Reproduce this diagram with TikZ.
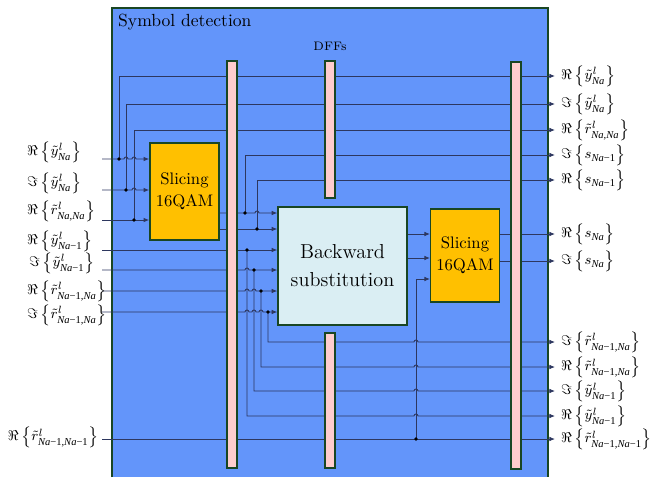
\documentclass[tikz,border=0pt]{standalone}
\usepackage{fontspec}
\newfontfamily\tms{Liberation Serif}
\usetikzlibrary{arrows.meta,positioning}
\definecolor{detblue}{RGB}{99,149,250}
\definecolor{edgegreen}{RGB}{25,70,35}
\definecolor{dffpink}{RGB}{255,205,205}
\definecolor{slicegold}{RGB}{255,192,0}
\definecolor{bsfill}{RGB}{218,238,243}
\definecolor{wire}{RGB}{45,55,95}
\tikzset{
  dff/.style={draw=edgegreen,fill=dffpink,line width=0.8pt,minimum width=0.2cm,inner sep=0pt},
  slicer/.style={draw=edgegreen,fill=slicegold,line width=0.8pt,minimum width=1.38cm,align=center,font=\fontsize{9.5}{12.5}\selectfont},
  sig/.style={draw=wire,line width=0.5pt},
  feed/.style={sig,-{Latex[length=3.2pt,width=2.6pt]}},
  lbl/.style={font=\fontsize{8.5}{10}\selectfont,inner sep=1pt}
}
\newcommand{\ixs}[1]{\mbox{\fontsize{6}{7}\selectfont\tms\itshape #1}}
\newcommand{\minone}{{\upshape −1}}
\newcommand{\jointdot}[1]{\fill (#1) circle (1.1pt);}
\begin{document}
\begin{tikzpicture}[x=0.02cm,y=-0.02cm]
\useasboundingbox (0,0) rectangle (652,477);
\fill[detblue] (112,8) rectangle (548,477);
\draw[edgegreen,line width=0.9pt] (112,477) |- (548,8) -- (548,477);
\node[anchor=west] (title) at (112,22) {Symbol detection};

\node[slicer,minimum height=1.94cm] (slice1) at (184.5,191.5) {Slicing\\16QAM};
\node[draw=edgegreen,fill=bsfill,line width=0.8pt,minimum width=2.58cm,minimum height=2.36cm,align=center,font=\fontsize{11.5}{16}\selectfont] (bs) at (342.5,266) {Backward\\substitution};
\node[slicer,minimum height=1.86cm] (slice2) at (465,255.5) {Slicing\\16QAM};

\coordinate (i1) at (102,159);
\coordinate (i2) at (102,190);
\coordinate (i3) at (102,220);
\coordinate (i4) at (102,250);
\coordinate (i5) at (102,270);
\coordinate (i6) at (102,291);
\coordinate (i7) at (102,312);
\coordinate (i8) at (102,439);
\coordinate (o1) at (555,76);
\coordinate (o2) at (555,104);
\coordinate (o3) at (555,130);
\coordinate (o4) at (555,155);
\coordinate (o5) at (555,180);
\coordinate (o6) at (555,234);
\coordinate (o7) at (555,261);
\coordinate (o8) at (555,342);
\coordinate (o9) at (555,367);
\coordinate (o10) at (555,391);
\coordinate (o11) at (555,416);
\coordinate (o12) at (555,439);
\coordinate (t1) at (119,159);
\coordinate (t2) at (126,190);
\coordinate (t3) at (134,220);
\coordinate (s1a) at (245,213);
\coordinate (s1b) at (257,229);
\coordinate (t4) at (247,250);
\coordinate (t5) at (254,270);
\coordinate (t6) at (261,291);
\coordinate (t7) at (268,312);
\coordinate (t8) at (416,439);
\coordinate (q1) at (430,234);
\coordinate (q2) at (430,258);
\coordinate (q3) at (430,279);

\draw[feed] (i1) -- (124,159) arc[start angle=180,end angle=0,radius=0.04cm] -- (132,159) arc[start angle=180,end angle=0,radius=0.04cm] -- (i1 -| slice1.west);
\draw[feed] (i2) -- (132,190) arc[start angle=180,end angle=0,radius=0.04cm] -- (i2 -| slice1.west);
\draw[feed] (i3) -- (i3 -| slice1.west);
\draw[feed] (t1) |- (o1);
\draw[feed] (t2) |- (o2);
\draw[feed] (t3) |- (o3);

\draw[feed] (slice1.east |- s1a) -- (255,213) arc[start angle=180,end angle=0,radius=0.04cm] -- (bs.west |- s1a);
\draw[feed] (slice1.east |- s1b) -- (bs.west |- s1b);
\draw[feed] (s1a) |- (o4);
\draw[feed] (s1b) |- (o5);

\draw[feed] (i4) -- (bs.west |- i4);
\draw[feed] (i5) -- (245,270) arc[start angle=180,end angle=0,radius=0.04cm] -- (bs.west |- i5);
\draw[feed] (i6) -- (245,291) arc[start angle=180,end angle=0,radius=0.04cm] -- (252,291) arc[start angle=180,end angle=0,radius=0.04cm] -- (bs.west |- i6);
\draw[feed] (i7) -- (245,312) arc[start angle=180,end angle=0,radius=0.04cm] -- (252,312) arc[start angle=180,end angle=0,radius=0.04cm] -- (259,312) arc[start angle=180,end angle=0,radius=0.04cm] -- (bs.west |- i7);
\draw[feed] (t4) -- (247,416) -- (414,416) arc[start angle=180,end angle=0,radius=0.04cm] -- (o11);
\draw[feed] (t5) -- (254,391) -- (414,391) arc[start angle=180,end angle=0,radius=0.04cm] -- (o10);
\draw[feed] (t6) -- (261,367) -- (414,367) arc[start angle=180,end angle=0,radius=0.04cm] -- (o9);
\draw[feed] (t7) -- (268,342) -- (414,342) arc[start angle=180,end angle=0,radius=0.04cm] -- (o8);

\draw[feed] (i8) -- (o12);
\draw[feed] (t8) |- (q3);
\draw[feed] (bs.east |- q1) -- (q1);
\draw[feed] (bs.east |- q2) -- (q2);
\draw[feed] (slice2.east |- o6) -- (o6);
\draw[feed] (slice2.east |- o7) -- (o7);

\foreach \p in {t1,t2,t3,s1a,s1b,t4,t5,t6,t7,t8} {\jointdot{\p}}

\node[dff,minimum height=8.14cm] (dffa) at (232,264.5) {};
\node[dff,minimum height=2.74cm] (dffb) at (330,129.5) {};
\node[dff,minimum height=2.7cm] (dffc) at (330,400.5) {};
\node[dff,minimum height=8.14cm] (dffd) at (516,265.5) {};
\node[font=\fontsize{7}{8}\selectfont,above=0.06cm of dffb] (dfflbl) {DFFs};

\node[lbl,anchor=west] (l1) at (25,152) {$\Re\,\bigl\{\tilde{y}^{l}_{\ixs{Na}}\bigr\}$};
\node[lbl,anchor=west] (l2) at (25,183) {$\Im\,\bigl\{\tilde{y}^{l}_{\ixs{Na}}\bigr\}$};
\node[lbl,anchor=west] (l3) at (25,211) {$\Re\,\bigl\{\tilde{r}^{l}_{\ixs{Na,Na}}\bigr\}$};
\node[lbl,anchor=west] (l4) at (25,241) {$\Re\,\bigl\{\tilde{y}^{l}_{\ixs{Na\minone}}\bigr\}$};
\node[lbl,anchor=west] (l5) at (27,263) {$\Im\,\bigl\{\tilde{y}^{l}_{\ixs{Na\minone}}\bigr\}$};
\node[lbl,anchor=west] (l6) at (25,291) {$\Re\,\bigl\{\tilde{r}^{l}_{\ixs{Na\minone,Na}}\bigr\}$};
\node[lbl,anchor=west] (l7) at (25,315) {$\Im\,\bigl\{\tilde{r}^{l}_{\ixs{Na\minone,Na}}\bigr\}$};
\node[lbl,anchor=east] (l8) at (101,437) {$\Re\,\bigl\{\tilde{r}^{l}_{\ixs{Na\minone,Na\minone}}\bigr\}$};

\node[lbl,right=0.08cm of o1] (r1) {$\Re\,\bigl\{\tilde{y}^{l}_{\ixs{Na}}\bigr\}$};
\node[lbl,right=0.08cm of o2] (r2) {$\Im\,\bigl\{\tilde{y}^{l}_{\ixs{Na}}\bigr\}$};
\node[lbl,right=0.08cm of o3] (r3) {$\Re\,\bigl\{\tilde{r}^{l}_{\ixs{Na,Na}}\bigr\}$};
\node[lbl,right=0.08cm of o4] (r4) {$\Im\,\bigl\{s_{\ixs{Na\minone}}\bigr\}$};
\node[lbl,right=0.08cm of o5] (r5) {$\Re\,\bigl\{s_{\ixs{Na\minone}}\bigr\}$};
\node[lbl,right=0.08cm of o6] (r6) {$\Re\,\bigl\{s_{\ixs{Na}}\bigr\}$};
\node[lbl,right=0.08cm of o7] (r7) {$\Im\,\bigl\{s_{\ixs{Na}}\bigr\}$};
\node[lbl,right=0.08cm of o8] (r8) {$\Im\,\bigl\{\tilde{r}^{l}_{\ixs{Na\minone,Na}}\bigr\}$};
\node[lbl,right=0.08cm of o9] (r9) {$\Re\,\bigl\{\tilde{r}^{l}_{\ixs{Na\minone,Na}}\bigr\}$};
\node[lbl,right=0.08cm of o10] (r10) {$\Im\,\bigl\{\tilde{y}^{l}_{\ixs{Na\minone}}\bigr\}$};
\node[lbl,right=0.08cm of o11] (r11) {$\Re\,\bigl\{\tilde{y}^{l}_{\ixs{Na\minone}}\bigr\}$};
\node[lbl,right=0.08cm of o12] (r12) {$\Re\,\bigl\{\tilde{r}^{l}_{\ixs{Na\minone,Na\minone}}\bigr\}$};
\end{tikzpicture}
\end{document}
